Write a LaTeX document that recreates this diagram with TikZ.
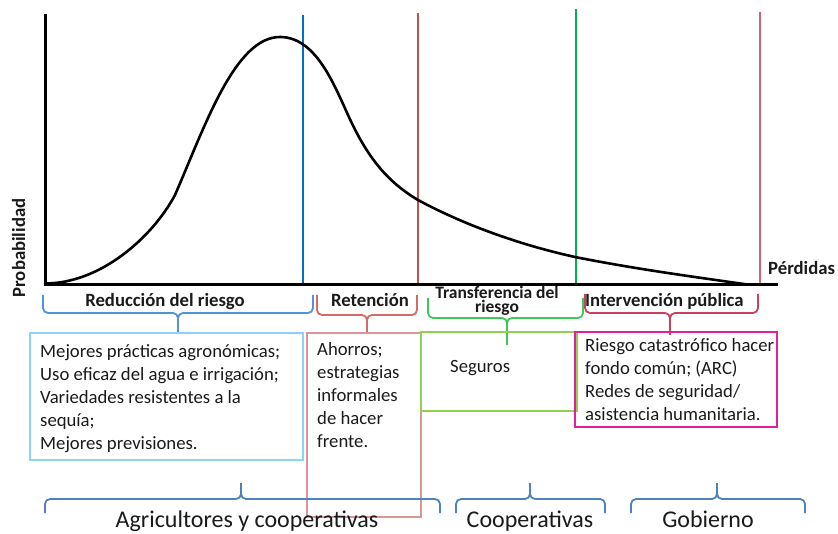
\documentclass[tikz,border=0pt]{standalone}
\usepackage{fontspec}
\setmainfont{Carlito}
\definecolor{txt}{HTML}{1A1A1A}
\definecolor{lblue}{HTML}{0070C0}
\definecolor{bblue}{HTML}{4F94D4}
\definecolor{boxblue}{HTML}{8DD3F5}
\definecolor{lred}{HTML}{C0504D}
\definecolor{bred}{HTML}{D46A6A}
\definecolor{boxred}{HTML}{D99694}
\definecolor{lgreen}{HTML}{00B050}
\definecolor{bgreen}{HTML}{3CC95A}
\definecolor{boxgreen}{HTML}{92D050}
\definecolor{lpink}{HTML}{D4607A}
\definecolor{bpink}{HTML}{C8405A}
\definecolor{boxmag}{HTML}{E020A0}
\definecolor{botblue}{HTML}{4F81BD}
\newcommand\mline[1]{\hbox{#1}}
\newcommand\centline[2]{\hbox to #1{\hfil#2\hfil}}
\newcommand\bracepath[7]{%
  \draw[#1] (#2,#4) -- (#2,#5) -- (#7,#5) -- (#7,#6);
  \draw[#1] (#3,#4) -- (#3,#5) -- (#7,#5) -- (#7,#6);}
\tikzset{
  bodytext/.style={inner sep=0pt, text=txt, font=\fontsize{18.7}{23}\selectfont},
  headtext/.style={inner sep=0pt, text=txt, font=\fontsize{18.7}{23}\selectfont\bfseries},
  bigtext/.style={inner sep=0pt, text=txt, font=\fontsize{24}{28}\selectfont},
  bracestyle/.style={line width=1.8pt, rounded corners=5pt},
  vline/.style={line width=2.2pt},
}
\begin{document}
\begin{tikzpicture}[x=1pt,y=-1pt]
\useasboundingbox (0,0) rectangle (838,534);
% vertical threshold lines
\draw[vline, lblue] (303,15) -- (303,284);
\draw[vline, lred, line width=1.8pt] (418,13) -- (418,284);
\draw[vline, lgreen, line width=2.6pt] (576,9) -- (576,284);
\draw[vline, lpink, line width=1.8pt] (760,12) -- (760,284);
% curve
\draw[line width=2.6pt, black, line join=round]
  (45,283.5) .. controls (100,283.5) and (152,238) .. (175,195)
  .. controls (205,126) and (235,37) .. (280,37)
  .. controls (315,37) and (333,82) .. (348,115)
  .. controls (368,159) and (388,182) .. (418,200)
  .. controls (468,227) and (525,246) .. (575,257)
  .. controls (640,270) and (710,279) .. (747,284.5);
% axes
\draw[line width=3pt, black] (45,14) -- (45,284.5) -- (778,284.5);
\node[headtext, anchor=base west] (perd) at (768,275) {Pérdidas};
\node[headtext, anchor=base, rotate=90] (prob) at (25,248) {Probabilidad};
% top braces
\bracepath{bblue,bracestyle}{43}{313}{295}{313}{333}{178}
\bracepath{bred,bracestyle}{317}{417}{295}{315}{334}{367}
\bracepath{bgreen,bracestyle}{428}{583}{298}{318}{345}{507}
\bracepath{bpink,bracestyle}{585}{758}{294}{313}{335}{670}
\node[headtext, anchor=base] (redu) at (165,307) {Reducción del riesgo};
\node[headtext, anchor=base] (rete) at (370,307) {Retención};
\node[headtext, anchor=base, font=\fontsize{17.5}{14}\selectfont\bfseries] (tran) at (497,299) {\vtop{\baselineskip=14pt\lineskiplimit=-100pt
  \centline{150pt}{Transferencia del}\centline{150pt}{riesgo}}};
\node[headtext, anchor=base west] (inte) at (585,307) {Intervención pública};
% boxes
\draw[boxred, line width=1.2pt] (307,333) rectangle (421,517);
\draw[boxblue, line width=1.4pt] (30,333) rectangle (303,460);
\draw[boxgreen, line width=2.4pt] (421,332) rectangle (577,411);
\draw[boxmag, line width=2.6pt] (575,332) rectangle (777,427);
\node[bodytext, anchor=base west] (t1) at (40,358) {\vtop{\baselineskip=23pt\lineskiplimit=-100pt
  \mline{Mejores prácticas agronómicas;}\mline{Uso eficaz del agua e irrigación;}%
  \mline{Variedades resistentes a la}\mline{sequía;}\mline{Mejores previsiones.}}};
\node[bodytext, anchor=base west] (t2) at (317,356) {\vtop{\baselineskip=23pt\lineskiplimit=-100pt
  \mline{Ahorros;}\mline{estrategias}\mline{informales}\mline{de hacer}\mline{frente.}}};
\node[bodytext, anchor=base west] (t3) at (450,373) {Seguros};
\node[bodytext, anchor=base west] (t4) at (585,352) {\vtop{\baselineskip=23pt\lineskiplimit=-100pt
  \mline{Riesgo catastrófico hacer}\mline{fondo común; (ARC)}%
  \mline{Redes de seguridad/}\mline{asistencia humanitaria.}}};
% bottom braces
\bracepath{botblue,bracestyle}{45}{440}{513}{499}{483}{241}
\bracepath{botblue,bracestyle}{456}{605}{513}{499}{483}{530}
\bracepath{botblue,bracestyle}{631}{805}{513}{499}{483}{717}
\node[bigtext, anchor=base] (agri) at (247,527) {Agricultores y cooperativas};
\node[bigtext, anchor=base] (coop) at (530,527) {Cooperativas};
\node[bigtext, anchor=base] (gobi) at (708,527) {Gobierno};
\end{tikzpicture}
\end{document}
